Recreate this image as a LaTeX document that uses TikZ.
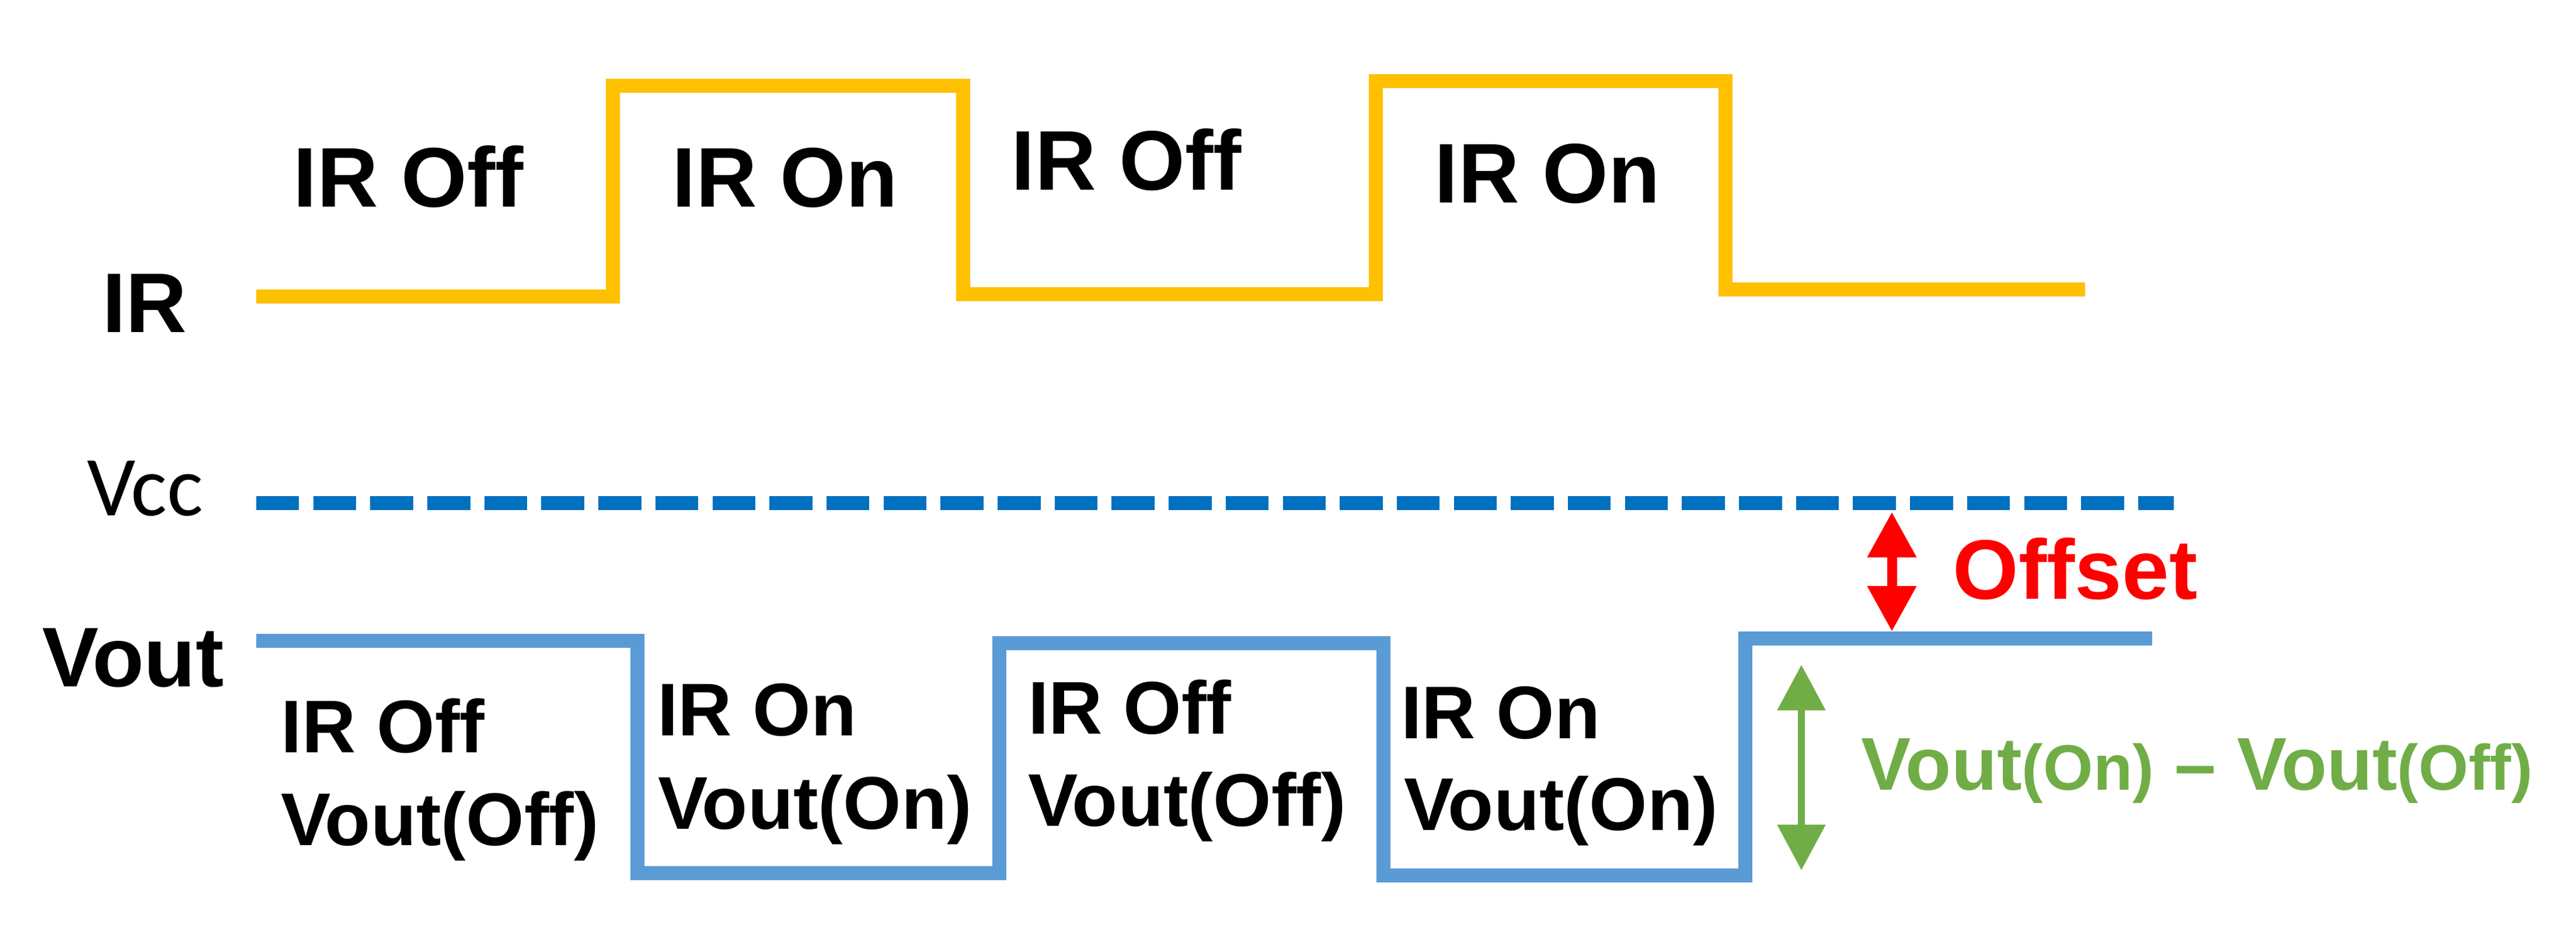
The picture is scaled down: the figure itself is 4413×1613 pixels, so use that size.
\documentclass[tikz,border=0pt]{standalone}
\usepackage{fontspec}
\setmainfont{Liberation Sans}
\newfontfamily\vccfont{Carlito}
\usepackage{tikz}
\usetikzlibrary{arrows.meta}
\tikzset{>={Triangle[length=7.8pt,width=8pt]}}
\definecolor{irgold}{HTML}{FFC000}
\definecolor{voutblue}{HTML}{5B9BD5}
\definecolor{vccblue}{HTML}{0070C0}
\definecolor{offsetred}{HTML}{FF0000}
\definecolor{diffgreen}{HTML}{70AD47}

\begin{document}
\begin{tikzpicture}[x=0.1pt, y=-0.1pt,
  wave/.style={line width=2.4pt, line join=miter},
  toplabel/.style={font=\fontsize{14.5}{17}\selectfont\bfseries, inner sep=0, anchor=base},
  seglabel/.style={font=\fontsize{12.8}{15}\selectfont\bfseries, inner sep=0, anchor=base west}]
  \useasboundingbox (0,0) rectangle (4413,1613);

  % signal names
  \node (ir) at (248,569) [toplabel] {IR};
  \node (vcc) at (249,883) [font=\vccfont\fontsize{14.6}{17}\selectfont, inner sep=0, anchor=base] {Vcc};
  \node (vout) at (228,1176) [toplabel] {Vout};

  % IR waveform
  \draw[wave, irgold] (439,508) -- (1050,508) -- (1050,147) -- (1650,147) -- (1650,504)
    -- (2357,504) -- (2357,139) -- (2956,139) -- (2956,496) -- (3572,496);
  \node (iroff1) at (700,354) [toplabel] {IR Off};
  \node (iron1) at (1345,354) [toplabel] {IR On};
  \node (iroff2) at (1930,325) [toplabel] {IR Off};
  \node (iron2) at (2651,347) [toplabel] {IR On};

  % Vcc level
  \draw[line width=2.4pt, vccblue, dash pattern=on 7.35pt off 2.42pt] (439,862) -- (3724,862);

  % Vout waveform
  \draw[wave, voutblue] (439,1098) -- (1092,1098) -- (1092,1496) -- (1712,1496) -- (1712,1102)
    -- (2370,1102) -- (2370,1500) -- (2990,1500) -- (2990,1094) -- (3687,1094);
  \node (seg1a) at (480,1289) [seglabel] {IR Off};
  \node (seg1b) at (479,1448) [seglabel] {Vout(Off)};
  \node (seg2a) at (1124,1260) [seglabel] {IR On};
  \node (seg2b) at (1125,1420) [seglabel] {Vout(On)};
  \node (seg3a) at (1759,1257) [seglabel] {IR Off};
  \node (seg3b) at (1759,1415) [seglabel] {Vout(Off)};
  \node (seg4a) at (2398,1265) [seglabel] {IR On};
  \node (seg4b) at (2403,1422) [seglabel] {Vout(On)};

  % offset and swing
  \coordinate (offtop) at (3241,877);
  \coordinate (offbot) at (3241,1082);
  \draw[<->, offsetred, line width=1.7pt] (offtop) -- (offbot);
  \node (offset) at (3555,1026) [toplabel, text=offsetred] {Offset};

  \coordinate (difftop) at (3086,1139);
  \coordinate (diffbot) at (3086,1491);
  \draw[<->, diffgreen, line width=1.2pt] (difftop) -- (diffbot);
  \node (diff) at (3764,1353) [font=\fontsize{12.8}{15}\selectfont\bfseries, inner sep=0, anchor=base, text=diffgreen]
    {Vout{\fontsize{11}{13}\selectfont(On)} \textendash\ Vout{\fontsize{11}{13}\selectfont(Off)}};
\end{tikzpicture}
\end{document}
